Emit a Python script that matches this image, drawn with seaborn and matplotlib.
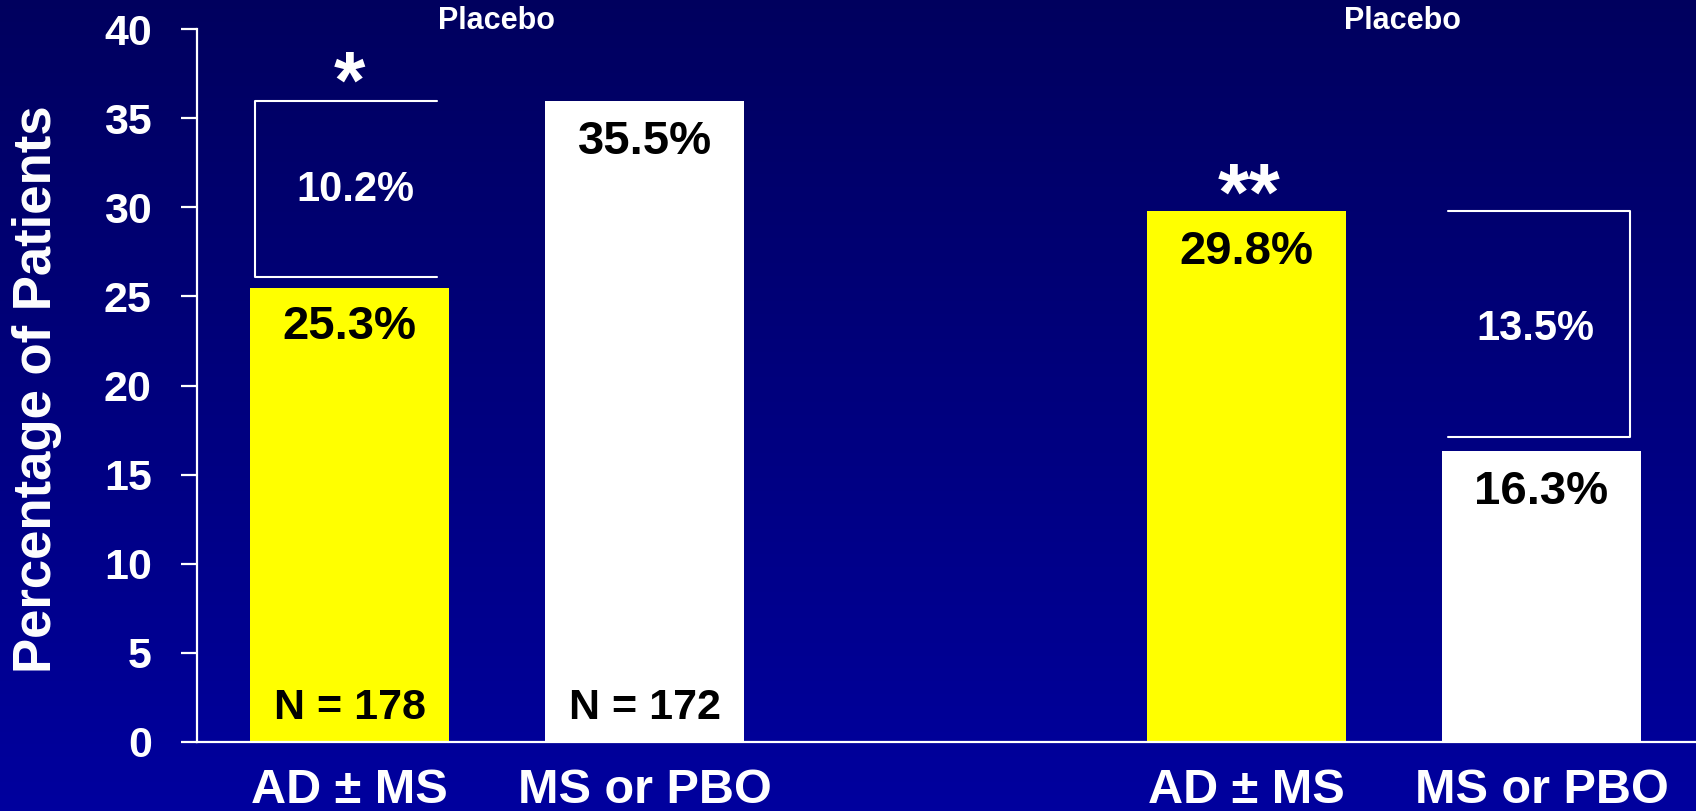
import numpy as np
import pandas as pd
import matplotlib
matplotlib.use("Agg")
import matplotlib.pyplot as plt
import seaborn as sns

# data
groups = ["AD ± MS", "MS or PBO", "AD ± MS", "MS or PBO"]
positions = [0, 1, 3.04, 4.04]
heights = [25.5, 36.0, 29.8, 16.3]
value_labels = ["25.3%", "35.5%", "29.8%", "16.3%"]
n_labels = ["N = 178", "N = 172"]
bar_colors = ["#FFFF00", "#FFFFFF", "#FFFF00", "#FFFFFF"]
diff_labels = ["10.2%", "13.5%"]
diff_lo = [26.1, 17.1]
diff_hi = [36.0, 29.8]
stars = ["*", "**"]
yticks = [0, 5, 10, 15, 20, 25, 30, 35, 40]

sns.set_style("white")
plt.rcParams['font.family'] = ['Liberation Sans', 'DejaVu Sans']
plt.rcParams['font.weight'] = 'bold'

df = pd.DataFrame({'pos': positions, 'pct': heights, 'grp': [str(i) for i in range(4)]})

fig = plt.figure(figsize=(16.96, 8.11), dpi=100)

# background gradient, dark navy at top to brighter blue at bottom
bg = fig.add_axes([0, 0, 1, 1])
grad = np.linspace(0, 1, 256).reshape(-1, 1)
top = np.array([0.0, 0.0, 0.37])
bot = np.array([0.0, 0.0, 0.62])
img = top + (bot - top) * grad[:, :, None]
bg.imshow(img, aspect='auto', extent=[0, 1, 0, 1], origin='upper')
bg.set_axis_off()

ax = fig.add_axes([197 / 1696, 69.3 / 811, 1 - 197 / 1696, (741.7 - 29.3) / 811])
ax.set_facecolor('none')

sns.barplot(data=df, x='pos', y='pct', hue='grp', palette=bar_colors,
            native_scale=True, dodge=False, width=0.675, linewidth=0,
            saturation=1, legend=False, ax=ax)

ax.set_xlim(-0.517, 4.564)
ax.set_ylim(0, 40)
ax.set_yticks(yticks)
ax.set_xticks(positions)
ax.set_xticklabels(groups)

for side in ['top', 'right']:
    ax.spines[side].set_visible(False)
for side in ['left', 'bottom']:
    ax.spines[side].set_color('white')
    ax.spines[side].set_linewidth(1.6)

ax.tick_params(axis='y', colors='white', labelsize=31, length=11.5, width=1.6,
               direction='out', pad=21, left=True)
ax.tick_params(axis='x', colors='white', labelsize=35, length=0, pad=19)
for lab in ax.get_xticklabels() + ax.get_yticklabels():
    lab.set_fontweight('bold')

ax.set_xlabel('')
ax.set_ylabel('Percentage of Patients', color='white', fontsize=38, fontweight='bold')
ax.yaxis.set_label_coords(-0.090, 0.495)

# value labels inside bars
value_y = [23.3, 33.7, 27.5, 14.0]
for p, y, s in zip(positions, value_y, value_labels):
    ax.text(p, y, s, ha='center', va='center', fontsize=34, fontweight='bold', color='black')
for p, s in zip(positions[:2], n_labels):
    ax.text(p, 1.9, s, ha='center', va='center', fontsize=31, fontweight='bold', color='black')

# difference brackets: "[" on first pair, "]" on second pair
lw = 1.5
p0 = positions[0]
ax.plot([p0 + 0.295, p0 - 0.32, p0 - 0.32, p0 + 0.295],
        [diff_hi[0], diff_hi[0], diff_lo[0], diff_lo[0]], color='white', lw=lw)
ax.text(p0 + 0.02, 31.0, diff_labels[0], ha='center', va='center',
        fontsize=30, fontweight='bold', color='white')
p3 = positions[3]
ax.plot([p3 - 0.315, p3 + 0.30, p3 + 0.30, p3 - 0.315],
        [diff_hi[1], diff_hi[1], diff_lo[1], diff_lo[1]], color='white', lw=lw)
ax.text(p3 - 0.02, 23.2, diff_labels[1], ha='center', va='center',
        fontsize=30, fontweight='bold', color='white')

# significance stars
ax.text(positions[0], 35.6, stars[0], ha='center', va='baseline',
        fontsize=58, fontweight='bold', color='white')
ax.text(positions[2] + 0.01, 29.3, stars[1], ha='center', va='baseline',
        fontsize=58, fontweight='bold', color='white')

# "Placebo" captions over the white bars
for x in [496, 1402]:
    fig.text(x / 1696, 1 - 21 / 811, 'Placebo', ha='center', va='center',
             fontsize=22, fontweight='bold', color='white')

fig.savefig('out.png', dpi=100)
